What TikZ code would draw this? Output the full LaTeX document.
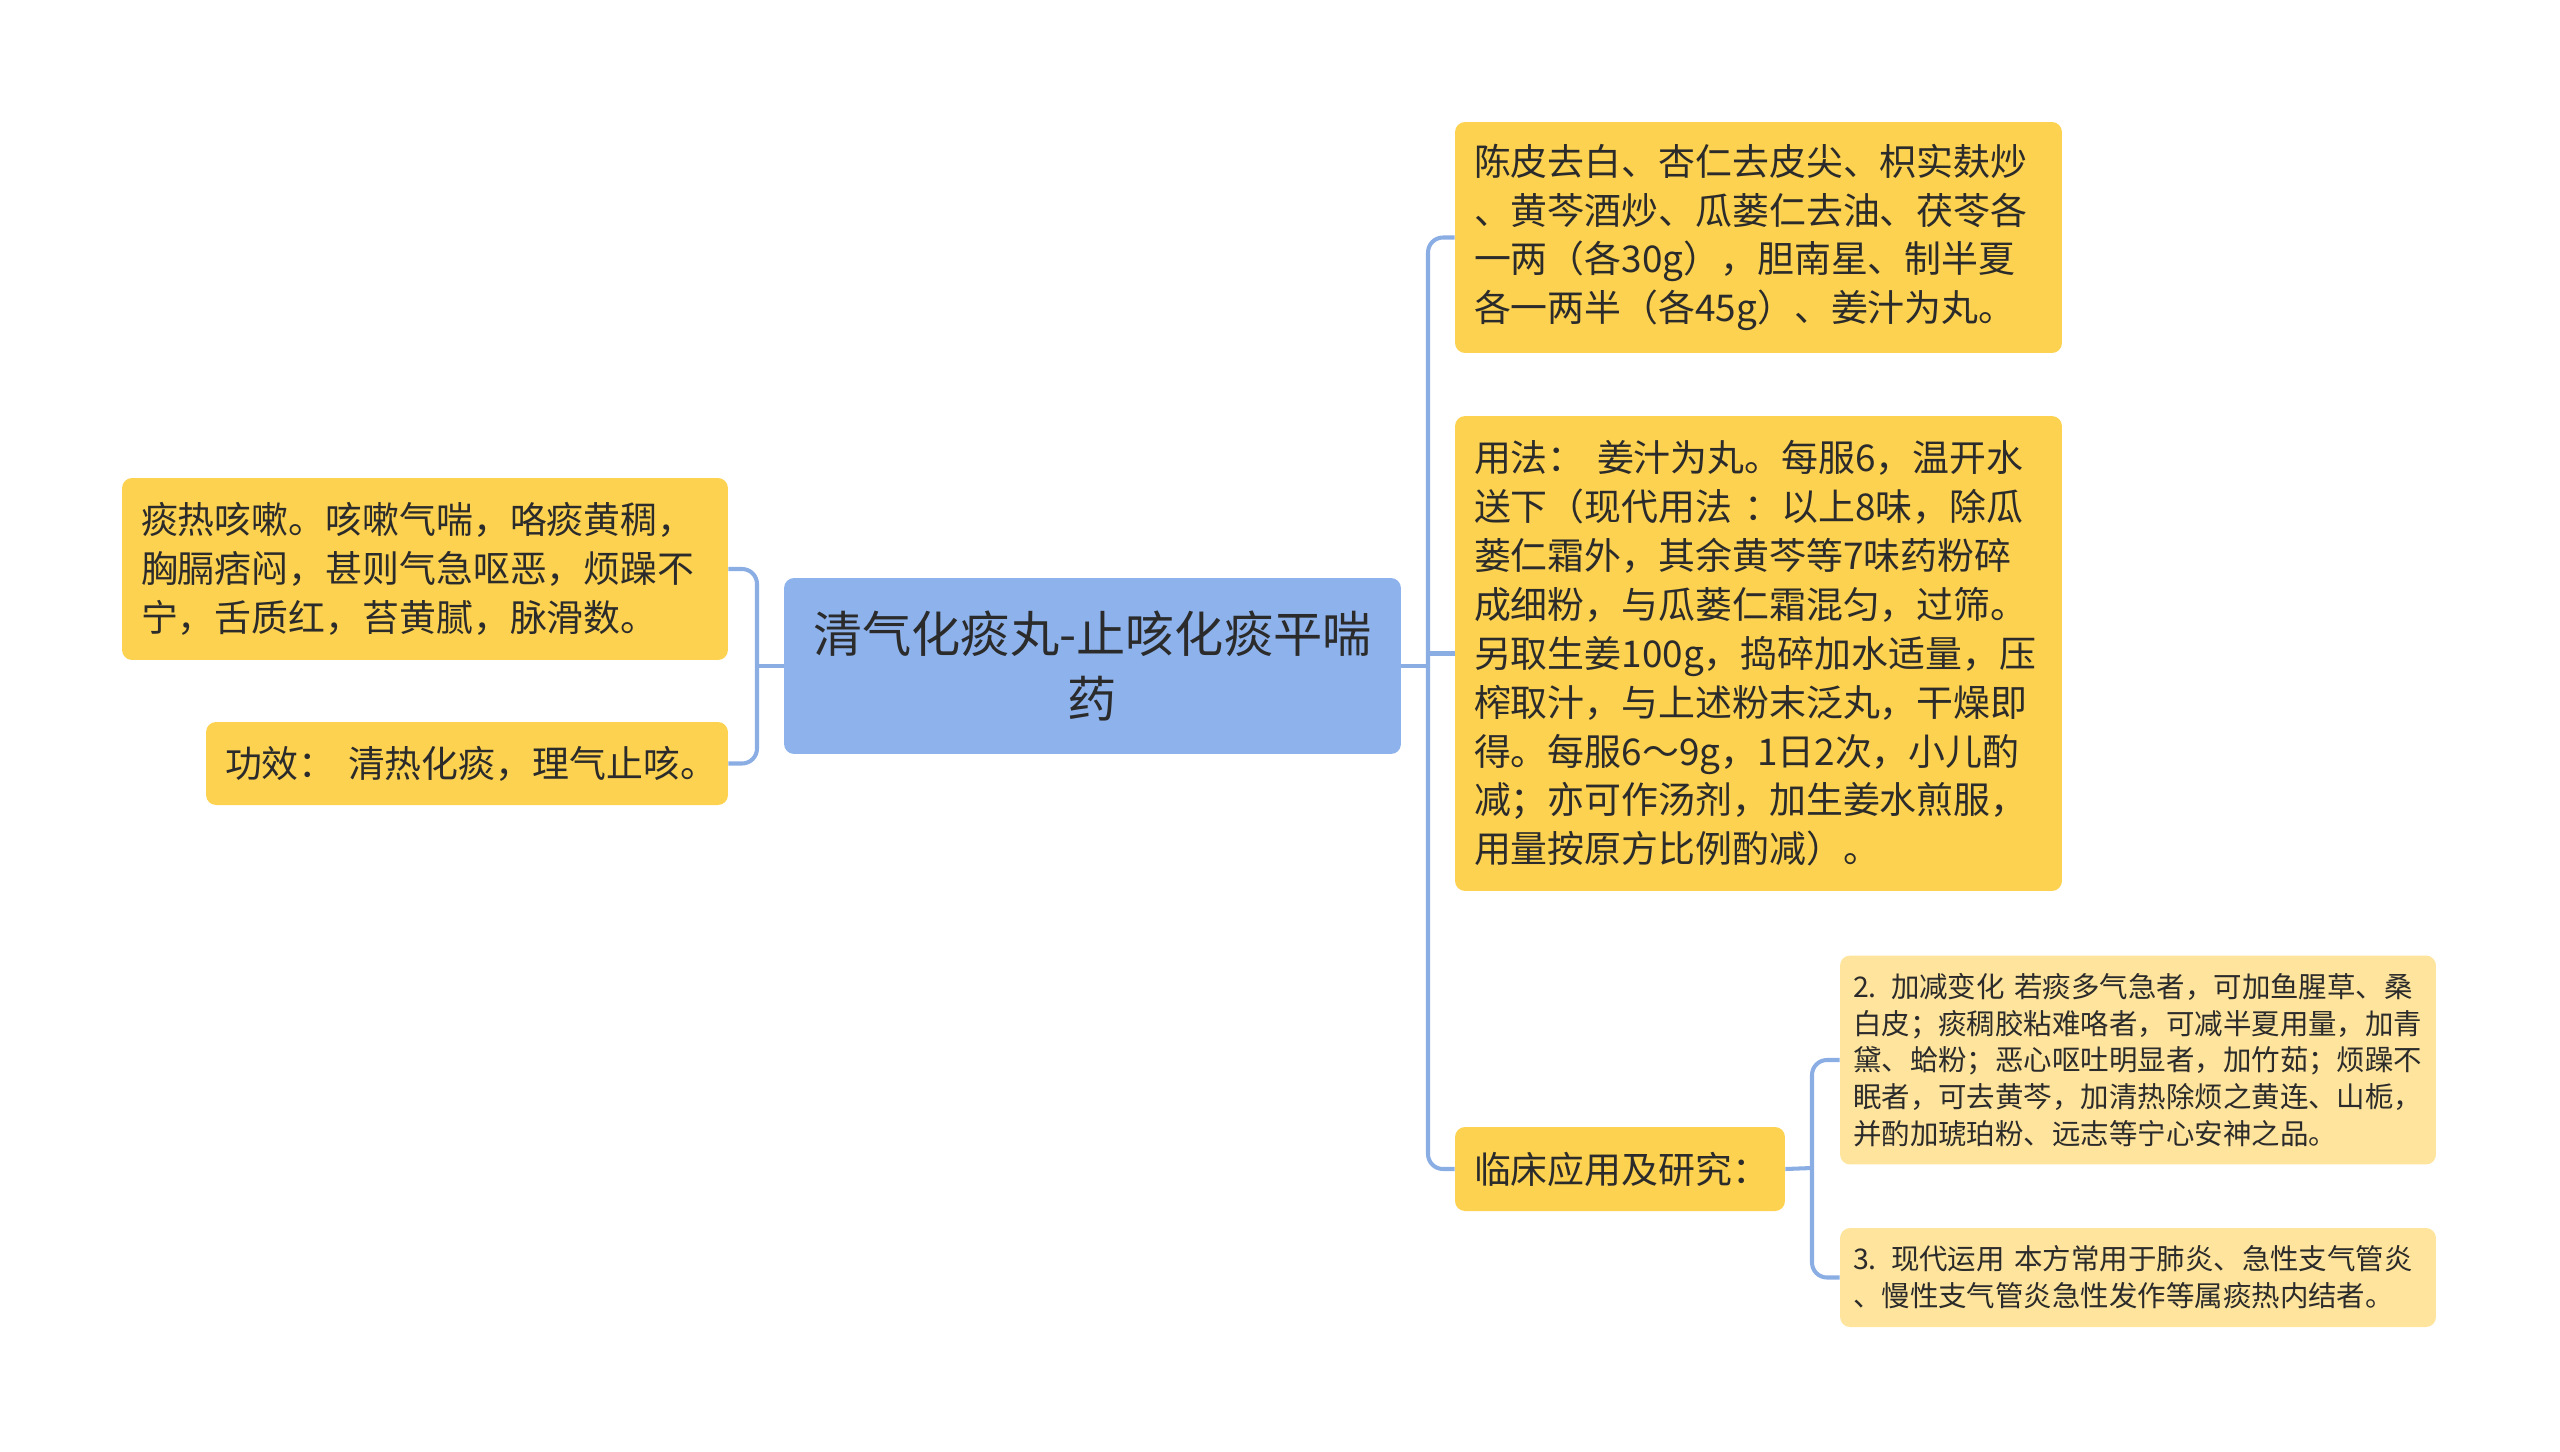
\documentclass[tikz,border=0pt]{standalone}
\usepackage{fontspec}
\usepackage{tikz}
\newfontfamily\cjk{Noto Sans CJK SC}
\definecolor{topicblue}{HTML}{8EB2EB}
\definecolor{linkblue}{HTML}{8AADE3}
\definecolor{boxyellow}{HTML}{FCD250}
\definecolor{paleyellow}{HTML}{FEE49C}
\definecolor{ink}{HTML}{2B2B2B}

\begin{document}
\begin{tikzpicture}[x=0.02cm,y=-0.02cm,
  topic/.style={rounded corners=0.2cm,fill=topicblue,text=ink,inner xsep=0.4cm,inner ysep=0pt,
    align=center,font=\cjk\fontsize{28}{37}\selectfont},
  box/.style={rounded corners=0.2cm,fill=boxyellow,text=ink,inner xsep=0.38cm,inner ysep=0pt,
    align=left,font=\cjk\fontsize{21}{27.8}\selectfont},
  subbox/.style={rounded corners=0.2cm,fill=paleyellow,text=ink,inner xsep=0.26cm,inner ysep=0pt,
    align=left,font=\cjk\fontsize{16.2}{20.9}\selectfont},
  link/.style={draw=linkblue,line width=2.3pt,rounded corners=0.3cm}]
\useasboundingbox (0,0) rectangle (2560,1451);

\node[topic,minimum width=12.34cm,minimum height=3.52cm,text width=11.54cm] (main) at (1092.5,666)
  {清气化痰丸-止咳化痰平喘\\药};

% right side
\node[box,minimum width=12.14cm,minimum height=4.62cm,text width=11.38cm] (fang) at (1758.5,237.5)
  {陈皮去白、杏仁去皮尖、枳实麸炒\\、黄芩酒炒、瓜蒌仁去油、茯苓各\\一两（各30g），胆南星、制半夏\\各一两半（各45g）、姜汁为丸。};
\node[box,minimum width=12.14cm,minimum height=9.5cm,text width=11.38cm] (yong) at (1758.5,653.5)
  {用法：~姜汁为丸。每服6，温开水\\送下（现代用法 ：以上8味，除瓜\\蒌仁霜外，其余黄芩等7味药粉碎\\成细粉，与瓜蒌仁霜混匀，过筛。\\另取生姜100g，捣碎加水适量，压\\榨取汁，与上述粉末泛丸，干燥即\\得。每服6～9g，1日2次，小儿酌\\减；亦可作汤剂，加生姜水煎服，\\用量按原方比例酌减）。};
\node[box,minimum width=6.6cm,minimum height=1.68cm,text width=5.84cm] (lin) at (1620,1169)
  {临床应用及研究：};

\node[subbox,minimum width=11.92cm,minimum height=4.18cm,text width=11.4cm] (jia) at (2138,1060)
  {2. 加减变化 若痰多气急者，可加鱼腥草、桑\\白皮；痰稠胶粘难咯者，可减半夏用量，加青\\黛、蛤粉；恶心呕吐明显者，加竹茹；烦躁不\\眠者，可去黄芩，加清热除烦之黄连、山栀，\\并酌加琥珀粉、远志等宁心安神之品。};
\node[subbox,minimum width=11.92cm,minimum height=1.98cm,text width=11.4cm] (xian) at (2138,1277.5)
  {3. 现代运用 本方常用于肺炎、急性支气管炎\\、慢性支气管炎急性发作等属痰热内结者。};

% left side
\node[box,minimum width=12.12cm,minimum height=3.64cm,text width=11.36cm] (zheng) at (425,569)
  {痰热咳嗽。咳嗽气喘，咯痰黄稠，\\胸膈痞闷，甚则气急呕恶，烦躁不\\宁，舌质红，苔黄腻，脉滑数。};
\node[box,minimum width=10.44cm,minimum height=1.66cm,text width=9.68cm] (gong) at (467,763.5)
  {功效：~清热化痰，理气止咳。};

% connectors
\coordinate (rt) at (1428,666);
\coordinate (lt) at (757,666);
\coordinate (st) at (1812,1168);
\draw[link] (main.east) -- (rt);
\draw[link] (fang.west) -| (rt) |- (lin.west);
\draw[link] (yong.west) -- (rt |- yong.west);
\draw[link] (main.west) -- (lt);
\draw[link] (zheng.east) -| (lt) |- (gong.east);
\draw[link] (lin.east) -- (st);
\draw[link] (jia.west) -| (st) |- (xian.west);
\end{tikzpicture}
\end{document}
